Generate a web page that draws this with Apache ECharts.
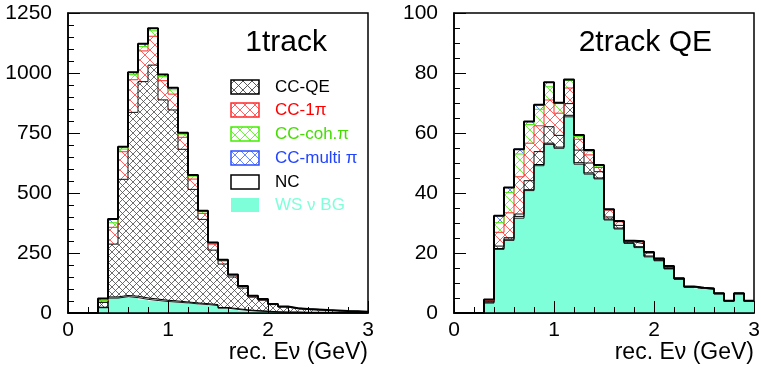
<!DOCTYPE html>
<html><head><meta charset="utf-8">
<script src="https://cdn.jsdelivr.net/npm/echarts@6/dist/echarts.min.js"></script>
<style>html,body{margin:0;padding:0;background:#fff}#c{width:761px;height:370px}</style>
</head><body><div id="c"></div>
<script>
// bin lower edges (GeV), bin width 0.1
const binLow = [0.0,0.1,0.2,0.3,0.4,0.5,0.6,0.7,0.8,0.9,1.0,1.1,1.2,1.3,1.4,1.5,1.6,1.7,1.8,1.9,2.0,2.1,2.2,2.3,2.4,2.5,2.6,2.7,2.8,2.9];
const xMax = 3.0;

// ---- 1track ----
const ws1    = [0,0,0,22,62,68,64,57,52,48,45,42,38,35,31,20,15,11,8,6,4,3,3,2,2,2,1,1,1,1];
const nc1    = [0,0,0,2,5,5,6,6,6,5,5,4,4,4,4,3,3,2,2,2,1,1,1,1,1,1,1,0,0,0];
const qe1    = [0,0,0,20,220,484,766,901,975,835,796,636,473,351,227,181,132,91,56,45,30,21,14,12,10,8,7,6,5,3];
const pi1    = [0,0,0,6,70,115,136,128,120,80,66,50,43,25,25,13,7,5,4,3,2,2,2,2,2,1,1,1,1,1];
const coh1   = [0,0,0,3,19,11,21,18,23,17,18,13,12,7,4,4,2,2,2,1,1,0,0,0,0,0,0,0,0,0];
const multi1 = [0,0,0,7,16,10,10,12,10,9,9,6,5,4,3,1,1,1,0,1,0,0,0,0,0,0,0,0,0,0];

// ---- 2track QE ----
const ws2    = [0,0,0,3.3,21.2,24.2,31.6,40.8,49.1,56.2,54.9,65.4,49.6,46.3,44.7,31.0,28.0,23.2,21.8,18.7,17.4,14.7,11.3,8.6,8.2,8.0,6.4,3.9,6.4,3.9];
const nc2    = [0,0,0,0.3,0.3,0.4,0.6,0.3,0.4,0.4,0.4,0.5,0.5,0.4,0.3,0.3,0.3,0.2,0.3,0.3,0.2,0.1,0,0,0,0,0,0,0,0];
const qe2    = [0,0,0,0.3,0.8,0.5,0.8,3.0,4.3,5.5,3.9,3.9,4.2,3.3,2.1,0.7,0.9,0.3,1.0,1.0,0.3,0.3,0.2,0.2,0.2,0.2,0.2,0.2,0.2,0.2];
const pi2    = [0,0,0,0.3,4.6,8.3,12.4,12.5,8.6,8.9,7.4,5.2,3.6,2.7,1.4,2.3,1.2,0.3,0.7,0.3,0.3,0.6,0.1,0,0,0,0,0,0,0];
const coh2   = [0,0,0,0.3,3.2,6.8,7.6,6.2,5.5,4.4,3.2,2.5,0.9,1.2,0.5,0.2,0.2,0.1,0.1,0,0,0,0,0,0,0,0,0,0,0];
const multi2 = [0,0,0,0,2.3,1.6,1.6,1.0,1.5,1.5,0.3,0.3,0.5,0.4,0.3,0.1,0.1,0,0,0,0,0,0,0,0,0,0,0,0,0];

const yTicks1 = [0,250,500,750,1000,1250];
const yTicks2 = [0,20,40,60,80,100];
const titles = ['1track', '2track QE'];
const legendNames = ['CC-QE', 'CC-1\u03c0', 'CC-coh.\u03c0', 'CC-multi \u03c0', 'NC', 'WS \u03bd BG'];
const xName = 'rec. E\u03bd (GeV)';

const FONT = '"Liberation Sans", Arial, Helvetica, sans-serif';
const LINE = {ws:'#1a1a1a', nc:'#000000', qe:'#111111', pi:'#ff2a2a', coh:'#44ee00', multi:'#2a4dff'};
const TXT = {qe:'#000', pi:'#ff0000', coh:'#44dd00', multi:'#2244ff', nc:'#000', ws:'#7fffd9'};
const WSFILL = '#7fffd9';

function hatch(color, s, lw) {
  const c = document.createElement('canvas'); c.width = s; c.height = s;
  const g = c.getContext('2d'); g.strokeStyle = color; g.lineWidth = lw;
  g.beginPath(); g.moveTo(0,0); g.lineTo(s,s); g.moveTo(s,0); g.lineTo(0,s); g.stroke();
  return {image: c, repeat: 'repeat'};
}
function pts(vals) { const d = binLow.map((x,i)=>[x, vals[i]]); d.push([xMax, vals[vals.length-1]]); return d; }
function cumul(list) {
  const out = []; let run = binLow.map(()=>0);
  list.forEach(arr => { run = run.map((v,i)=>v+arr[i]); out.push(run.slice()); });
  return out;
}

function layers(gi, arrs, qeSize) {
  const stack = 'st' + gi;
  const catX = gi*2 + 1, valX = gi*2;
  const fills = [WSFILL, '#ffffff', hatch('#4a4a4a', qeSize, 0.8), hatch('#ff5050', 10, 0.9), hatch('#66ee33', 10, 0.9), hatch('#5577ff', 10, 0.9)];
  const lines = [LINE.ws, LINE.nc, LINE.qe, LINE.pi, LINE.coh, LINE.multi];
  const out = [];
  arrs.forEach((v, k) => {
    out.push({type:'bar', name:'b'+gi+'_'+k, xAxisIndex:catX, yAxisIndex:gi, data:v, stack,
      barWidth:'100%', barCategoryGap:'0%', silent:true, z:1, animation:false,
      itemStyle:{color:fills[k], borderWidth:0}});
  });
  const cum = cumul(arrs);
  cum.forEach((c, k) => {
    out.push({type:'line', name:'l'+gi+'_'+k, xAxisIndex:valX, yAxisIndex:gi, data:pts(c), step:'end',
      symbol:'none', silent:true, z:2+k*0.01, animation:false, lineStyle:{color:lines[k], width:1}});
  });
  out.push({type:'line', name:'tot'+gi, xAxisIndex:valX, yAxisIndex:gi, data:pts(cum[cum.length-1]), step:'end',
    symbol:'none', silent:true, z:3, animation:false, lineStyle:{color:'#000', width:2}});
  return out;
}

function xAxisVal(gi) {
  return {gridIndex:gi, type:'value', min:0, max:xMax, interval:1, z:10, position:'bottom',
    axisLine:{show:true, lineStyle:{color:'#000', width:1.5}},
    axisTick:{show:true, inside:true, length:12, lineStyle:{color:'#000', width:1}},
    minorTick:{show:true, splitNumber:5, length:6, lineStyle:{color:'#000', width:1}},
    splitLine:{show:false}, minorSplitLine:{show:false},
    axisLabel:{fontSize:21, color:'#000', margin:7, fontFamily:FONT}
  };
}
function xAxisCat(gi) {
  return {gridIndex:gi, type:'category', data:binLow.map(String), show:false, boundaryGap:true,
    axisLine:{show:false}, axisTick:{show:false}, axisLabel:{show:false}, splitLine:{show:false}};
}
function yAxis(gi, ticks) {
  const step = ticks[1]-ticks[0];
  return {gridIndex:gi, type:'value', min:ticks[0], max:ticks[ticks.length-1], interval:step, z:10,
    axisLine:{show:true, lineStyle:{color:'#000', width:1.5}},
    axisTick:{show:true, inside:true, length:12, lineStyle:{color:'#000', width:1}},
    minorTick:{show:true, splitNumber: gi===0 ? 5 : 4, length:6, lineStyle:{color:'#000', width:1}},
    splitLine:{show:false}, minorSplitLine:{show:false},
    axisLabel:{fontSize:21, color:'#000', margin:16, fontFamily:FONT, formatter:(v)=>String(v)}
  };
}

// legend + axis titles (graphic)
const legendRows = [87, 110, 134, 158, 182, 205];
const legStyle = [
  {fill:hatch('#4a4a4a', 9, 0.9), stroke:'#000'},
  {fill:hatch('#ff5050', 10, 0.9), stroke:'#ff2a2a'},
  {fill:hatch('#66ee33', 10, 0.9), stroke:'#44ee00'},
  {fill:hatch('#5577ff', 10, 0.9), stroke:'#2a4dff'},
  {fill:'#fff', stroke:'#000'},
  {fill:WSFILL, stroke:null}
];
const legColors = [TXT.qe, TXT.pi, TXT.coh, TXT.multi, TXT.nc, TXT.ws];
const graphics = [];
legendNames.forEach((nm, i) => {
  const cy = legendRows[i];
  graphics.push({type:'rect', shape:{x:231, y:cy-7, width:28, height:14},
    style:{fill:legStyle[i].fill, stroke:legStyle[i].stroke, lineWidth:1.5}, z:20});
  graphics.push({type:'text', x:275, y:cy, z:20,
    style:{text:nm, fill:legColors[i], font:'17px ' + FONT, verticalAlign:'middle', textVerticalAlign:'middle'}});
});
[368, 754].forEach(xr => {
  graphics.push({type:'text', x:xr, y:353, z:20,
    style:{text:xName, fill:'#000', font:'23px ' + FONT, align:'right', textAlign:'right', verticalAlign:'middle', textVerticalAlign:'middle'}});
});

const chart = echarts.init(document.getElementById('c'), null, {renderer:'canvas'});
chart.setOption({
  animation:false,
  backgroundColor:'#fff',
  title: [
    {text:titles[0], right:429, top:23, textStyle:{fontSize:30, fontWeight:'normal', color:'#000', fontFamily:FONT}},
    {text:titles[1], right:44, top:23, textStyle:{fontSize:30, fontWeight:'normal', color:'#000', fontFamily:FONT}}
  ],
  grid: [
    {left:68, top:13, width:300, height:300, show:true, borderColor:'#000', borderWidth:1.5, backgroundColor:'rgba(0,0,0,0)', containLabel:false, outerBoundsMode:'none'},
    {left:454, top:13, width:300, height:300, show:true, borderColor:'#000', borderWidth:1.5, backgroundColor:'rgba(0,0,0,0)', containLabel:false, outerBoundsMode:'none'}
  ],
  xAxis: [xAxisVal(0), xAxisCat(0), xAxisVal(1), xAxisCat(1)],
  yAxis: [yAxis(0, yTicks1), yAxis(1, yTicks2)],
  series: [].concat(
    layers(0, [ws1, nc1, qe1, pi1, coh1, multi1], 7),
    layers(1, [ws2, nc2, qe2, pi2, coh2, multi2], 10)
  ),
  graphic: graphics
});
</script></body></html>
